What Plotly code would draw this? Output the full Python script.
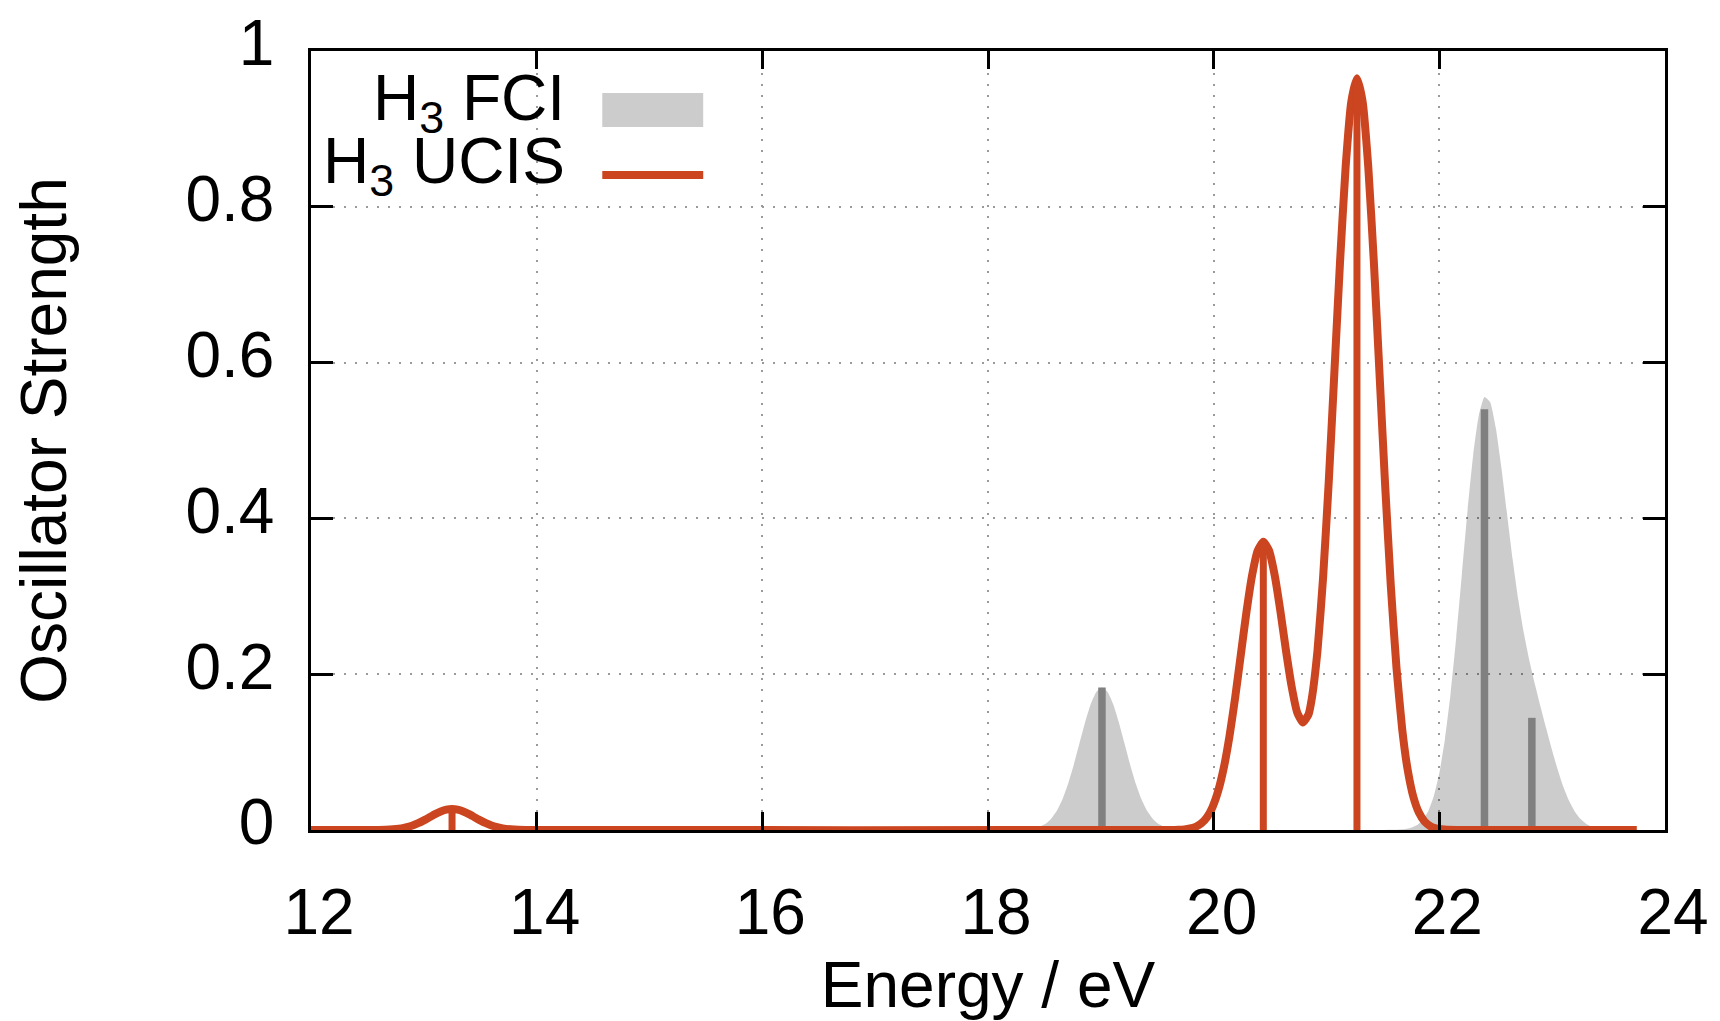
import plotly.graph_objects as go

# ---------------- data ----------------
# H3 FCI broadened spectrum (grey filled curve)
fci_curve_energy = [12.0, 18.2,
    18.31, 18.36, 18.41, 18.46, 18.51, 18.56, 18.61, 18.66, 18.71, 18.76,
    18.81, 18.86, 18.91, 18.96, 19.01, 19.06, 19.11, 19.16, 19.21, 19.26,
    19.31, 19.36, 19.41, 19.46, 19.51, 19.56, 19.61, 19.66, 19.71,
    19.8, 21.5,
    21.60, 21.65, 21.70, 21.75, 21.80, 21.85, 21.90, 21.95, 22.00, 22.05,
    22.10, 22.15, 22.20, 22.25, 22.30, 22.35, 22.40, 22.45, 22.50, 22.55,
    22.60, 22.65, 22.70, 22.75, 22.80, 22.85, 22.90, 22.95, 23.00, 23.05,
    23.10, 23.15, 23.20, 23.25, 23.30, 23.35, 23.40, 23.45, 23.50, 23.55,
    23.75]
fci_curve_strength = [0.0, 0.0,
    0.0004, 0.0009, 0.0020, 0.0042, 0.0080, 0.0146, 0.0248, 0.0396, 0.0594, 0.0838,
    0.1110, 0.1381, 0.1615, 0.1773, 0.1830, 0.1773, 0.1615, 0.1381, 0.1110, 0.0838,
    0.0594, 0.0396, 0.0248, 0.0146, 0.0080, 0.0042, 0.0020, 0.0009, 0.0004,
    0.0, 0.0,
    0.0002, 0.0005, 0.0012, 0.0028, 0.0060, 0.0123, 0.0237, 0.0430, 0.0731, 0.1169,
    0.1755, 0.2477, 0.3287, 0.4101, 0.4815, 0.5324, 0.5559, 0.5493, 0.5166, 0.4655,
    0.4061, 0.3475, 0.2956, 0.2522, 0.2164, 0.1854, 0.1566, 0.1289, 0.1020, 0.0771,
    0.0552, 0.0374, 0.0239, 0.0143, 0.0081, 0.0043, 0.0021, 0.0010, 0.0004, 0.0002,
    0.0]

# H3 UCIS broadened spectrum (red line)
ucis_curve_energy = [12.0, 12.5, 12.6, 12.7, 12.8, 12.85, 12.9, 12.95, 13.0, 13.05,
    13.1, 13.15, 13.2, 13.25, 13.3, 13.35, 13.4, 13.45, 13.5, 13.55, 13.6, 13.65,
    13.7, 13.8, 13.9, 14.0, 19.6,
    19.69, 19.74, 19.79, 19.84, 19.89, 19.94, 19.99, 20.04, 20.09, 20.14, 20.19,
    20.24, 20.29, 20.34, 20.39, 20.44, 20.49, 20.54, 20.59, 20.64, 20.69, 20.74,
    20.79, 20.84, 20.87, 20.92, 20.97, 21.02, 21.07, 21.12, 21.17, 21.22, 21.27,
    21.32, 21.37, 21.42, 21.47, 21.52, 21.57, 21.62, 21.67, 21.72, 21.77, 21.82,
    21.87, 21.92, 21.97, 22.02, 22.07, 22.2, 23.75]
ucis_curve_strength = [0.0, 0.0, 0.0001, 0.0006, 0.0021, 0.0037, 0.0058, 0.0088, 0.0124, 0.0164,
    0.0204, 0.0238, 0.0262, 0.0270, 0.0262, 0.0238, 0.0204, 0.0164, 0.0124, 0.0088, 0.0058, 0.0037,
    0.0021, 0.0006, 0.0001, 0.0, 0.0,
    0.0003, 0.0008, 0.0019, 0.0041, 0.0084, 0.0162, 0.0295, 0.0501, 0.0800, 0.1201, 0.1694,
    0.2244, 0.2793, 0.3265, 0.3585, 0.3700, 0.3590, 0.3277, 0.2823, 0.2312, 0.1850, 0.1510,
    0.1380, 0.1480, 0.1690, 0.2300, 0.3244, 0.4473, 0.5879, 0.7295, 0.8521, 0.9351, 0.9650,
    0.9351, 0.8516, 0.7284, 0.5853, 0.4418, 0.3133, 0.2087, 0.1306, 0.0768, 0.0424, 0.0220,
    0.0107, 0.0049, 0.0021, 0.0009, 0.0003, 0.0, 0.0]

# stick (impulse) transitions
fci_stick_energy = [19.01, 22.40, 22.82]
fci_stick_strength = [0.183, 0.540, 0.144]
ucis_stick_energy = [13.25, 20.44, 21.27]
ucis_stick_strength = [0.026, 0.370, 0.965]

x_tick_values = [12, 14, 16, 18, 20, 22, 24]
y_tick_values = [0, 0.2, 0.4, 0.6, 0.8, 1]
y_tick_labels = ["0", "0.2", "0.4", "0.6", "0.8", "1"]

legend_labels = ["H<sub>3</sub> FCI", "H<sub>3</sub> UCIS"]

# ---------------- styling ----------------
FONT = "Liberation Sans, Arial, Helvetica, sans-serif"
RED = "#cb4520"
GREY_FILL = "rgba(0,0,0,0.2)"
GREY_STICK = "#808080"


def impulses(energies, strengths):
    xs, ys = [], []
    for e, s in zip(energies, strengths):
        xs += [e, e, None]
        ys += [0, s, None]
    return xs, ys


fig = go.Figure()

fig.add_trace(go.Scatter(
    x=fci_curve_energy, y=fci_curve_strength, mode="lines",
    line=dict(width=0, color=GREY_FILL, shape="spline", smoothing=0.5),
    fill="tozeroy", fillcolor=GREY_FILL, name="H3 FCI", showlegend=False,
    hoverinfo="skip"))

sx, sy = impulses(fci_stick_energy, fci_stick_strength)
fig.add_trace(go.Scatter(x=sx, y=sy, mode="lines",
                         line=dict(width=7.5, color=GREY_STICK),
                         showlegend=False, hoverinfo="skip"))

fig.add_trace(go.Scatter(
    x=ucis_curve_energy, y=ucis_curve_strength, mode="lines",
    line=dict(width=8, color=RED, shape="spline", smoothing=0.5),
    name="H3 UCIS", showlegend=False))

sx, sy = impulses(ucis_stick_energy, ucis_stick_strength)
fig.add_trace(go.Scatter(x=sx, y=sy, mode="lines",
                         line=dict(width=7, color=RED),
                         showlegend=False, hoverinfo="skip"))

# plot-area pixel geometry
L, R, T, B = 310.5, 1665.5, 51.0, 830.0
W, H = 1720, 1021


def px(x):
    return (x - L) / (R - L)


def py(y):
    return (B - y) / (B - T)


# opaque legend background (hides the grid, drawn below traces)
fig.add_shape(type="rect", xref="paper", yref="paper",
              x0=px(L), x1=px(737), y0=py(210), y1=py(70),
              fillcolor="white", line=dict(width=0), layer="between")
# legend samples
fig.add_shape(type="rect", xref="paper", yref="paper",
              x0=px(602), x1=px(703), y0=py(127), y1=py(93),
              fillcolor="#cccccc", line=dict(width=0), layer="above")
fig.add_shape(type="line", xref="paper", yref="paper",
              x0=px(602), x1=px(703), y0=py(175), y1=py(175),
              line=dict(color=RED, width=8), layer="above")
for lab, yc in zip(legend_labels, [102, 165]):
    fig.add_annotation(text=lab, xref="paper", yref="paper",
                       x=px(567), y=py(yc), xanchor="right", yanchor="middle",
                       showarrow=False, font=dict(family=FONT, size=64, color="black"))

axis_common = dict(
    showline=True, linecolor="black", linewidth=2.5, mirror="ticks",
    ticks="inside", tickcolor="black", tickwidth=2.5,
    showgrid=True, gridcolor="#9a9a9a", gridwidth=1.5, griddash="2px,9px",
    zeroline=False,
    tickfont=dict(family=FONT, size=64, color="black"),
)

fig.update_xaxes(**axis_common, range=[12, 24], tickvals=x_tick_values,
                 ticklen=18, ticklabelstandoff=24, ticklabelshift=8,
                 title=dict(text="Energy / eV", standoff=26,
                            font=dict(family=FONT, size=64, color="black")))
fig.update_yaxes(**axis_common, range=[0, 1], tickvals=y_tick_values,
                 ticktext=y_tick_labels,
                 ticklen=22, ticklabelstandoff=21, ticklabelshift=-8,
                 title=dict(text="Oscillator Strength", standoff=99,
                            font=dict(family=FONT, size=64, color="black")))

fig.update_layout(
    width=W, height=H,
    margin=dict(l=L, r=W - R, t=T, b=H - B, autoexpand=False),
    plot_bgcolor="white", paper_bgcolor="white",
    showlegend=False,
    font=dict(family=FONT, size=64, color="black"),
)

fig.write_html("out.html")
